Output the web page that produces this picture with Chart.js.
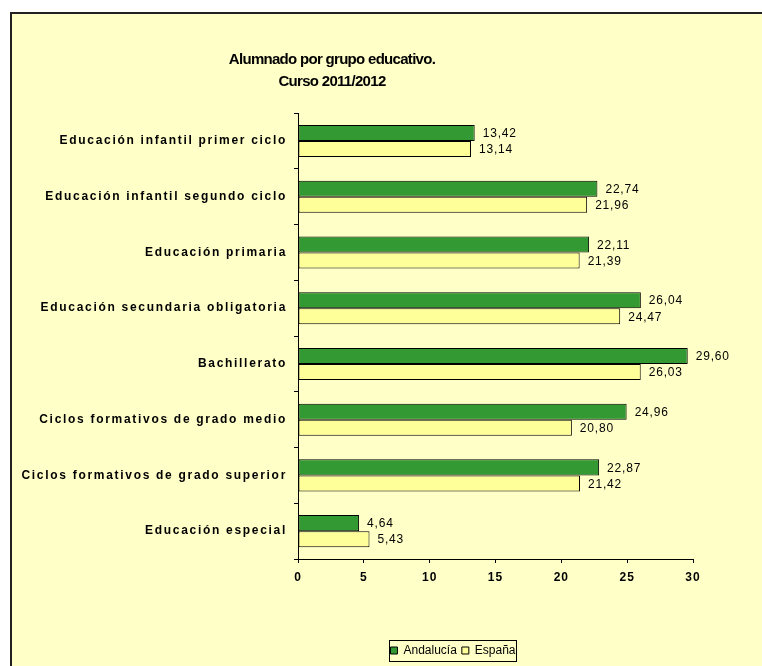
<!DOCTYPE html>
<html>
<head>
<meta charset="utf-8">
<script src="https://cdn.jsdelivr.net/npm/chart.js@4/dist/chart.umd.min.js"></script>
<style>
  html, body { margin: 0; padding: 0; background: #fff; overflow: hidden; }
  #marco {
    position: absolute; left: 10px; top: 12px; width: 760px; height: 660px;
    border-left: 2px solid #222; border-top: 2px solid #222; background: #FFFFC8;
  }
  #grafico { position: absolute; left: 0; top: 0; }
</style>
</head>
<body>
<div id="marco"></div>
<canvas id="grafico" width="762" height="666"></canvas>
<script>
// Datos del gráfico
const categorias = [
  "Educación infantil primer ciclo",
  "Educación infantil segundo ciclo",
  "Educación primaria",
  "Educación secundaria obligatoria",
  "Bachillerato",
  "Ciclos formativos de grado medio",
  "Ciclos formativos de grado superior",
  "Educación especial"
];
const andalucia = [13.42, 22.74, 22.11, 26.04, 29.60, 24.96, 22.87, 4.64];
const espana = [13.14, 21.96, 21.39, 24.47, 26.03, 20.80, 21.42, 5.43];
const titulo = ["Alumnado por grupo educativo.", "Curso 2011/2012"];

const FUENTE = "'Liberation Sans', Arial, sans-serif";

// Etiquetas de valor al final de cada barra
const etiquetas = {
  id: 'etiquetas',
  afterDatasetsDraw(chart) {
    const ctx = chart.ctx;
    ctx.save();
    ctx.font = "12px " + FUENTE;
    ctx.letterSpacing = '0.8px';
    ctx.fillStyle = "#000";
    ctx.textBaseline = "middle";
    ctx.textAlign = "left";
    chart.data.datasets.forEach((ds, i) => {
      chart.getDatasetMeta(i).data.forEach((bar, j) => {
        const txt = ds.data[j].toFixed(2).replace('.', ',');
        ctx.fillText(txt, bar.x + 8, bar.y + 1);
      });
    });
    ctx.restore();
  }
};

// Espaciado de letras en ejes y título
const envolver = (obj, esp) => {
  if (obj._envuelto) return;
  const nombre = obj.drawLabels ? 'drawLabels' : 'draw';
  const orig = obj[nombre].bind(obj);
  obj[nombre] = function (...args) {
    this.ctx.save();
    this.ctx.letterSpacing = esp;
    orig(...args);
    this.ctx.restore();
  };
  obj._envuelto = true;
};
const espaciado = {
  id: 'espaciado',
  beforeDraw(chart) {
    envolver(chart.scales.x, '1px');
    envolver(chart.scales.y, '1.7px');
    envolver(chart.titleBlock, '-0.7px');
  }
};

// Recolocar título y leyenda como en el original
const recolocar = {
  id: 'recolocar',
  afterLayout(chart) {
    const t = chart.titleBlock;
    const dxT = 332 - (t.left + t.right) / 2;
    t.left += dxT; t.right += dxT;
    const l = chart.legend;
    const dxL = 453 - (l.left + l.right) / 2;
    const dyL = 639.5 - l.top;
    l.left += dxL; l.right += dxL;
    l.top += dyL; l.bottom += dyL;
  },
  afterDraw(chart) {
    const ctx = chart.ctx;
    ctx.save();
    ctx.strokeStyle = "#000";
    ctx.lineWidth = 1;
    ctx.strokeRect(389.5, 640.5, 127, 21);
    ctx.restore();
  }
};

new Chart(document.getElementById('grafico'), {
  type: 'bar',
  data: {
    labels: categorias,
    datasets: [
      {
        label: 'Andalucía',
        data: andalucia,
        backgroundColor: '#339933',
        borderColor: '#000',
        borderWidth: 1,
        borderSkipped: false,
        categoryPercentage: 0.575,
        barPercentage: 1
      },
      {
        label: 'España',
        data: espana,
        backgroundColor: '#FFFF99',
        borderColor: '#000',
        borderWidth: 1,
        borderSkipped: false,
        categoryPercentage: 0.575,
        barPercentage: 1
      }
    ]
  },
  options: {
    indexAxis: 'y',
    responsive: false,
    animation: false,
    layout: { padding: { left: 10, right: 69, top: 49, bottom: 10 } },
    plugins: {
      tooltip: { enabled: false },
      title: {
        display: true,
        text: titulo,
        color: '#000',
        font: { family: FUENTE, size: 15, weight: 'bold', lineHeight: 1.47 },
        padding: { top: 0, bottom: 20 }
      },
      legend: {
        position: 'bottom',
        labels: {
          color: '#000',
          font: { family: FUENTE, size: 12 },
          boxWidth: 7,
          boxHeight: 7,
          padding: 5
        }
      }
    },
    scales: {
      x: {
        min: 0,
        max: 30,
        ticks: {
          stepSize: 5,
          color: '#000',
          font: { family: FUENTE, size: 12, weight: 'bold' },
          padding: 7
        },
        grid: { drawOnChartArea: false, color: '#000', tickLength: 4 },
        border: { color: '#000' },
        afterFit(s) { s.height = 70; }
      },
      y: {
        ticks: {
          color: '#000',
          font: { family: FUENTE, size: 12, weight: 'bold' },
          padding: 7
        },
        grid: { drawOnChartArea: false, color: '#000', tickLength: 4, offset: true },
        border: { color: '#000' },
        afterFit(s) { s.width = 288; }
      }
    }
  },
  plugins: [etiquetas, espaciado, recolocar]
});
</script>
</body>
</html>
